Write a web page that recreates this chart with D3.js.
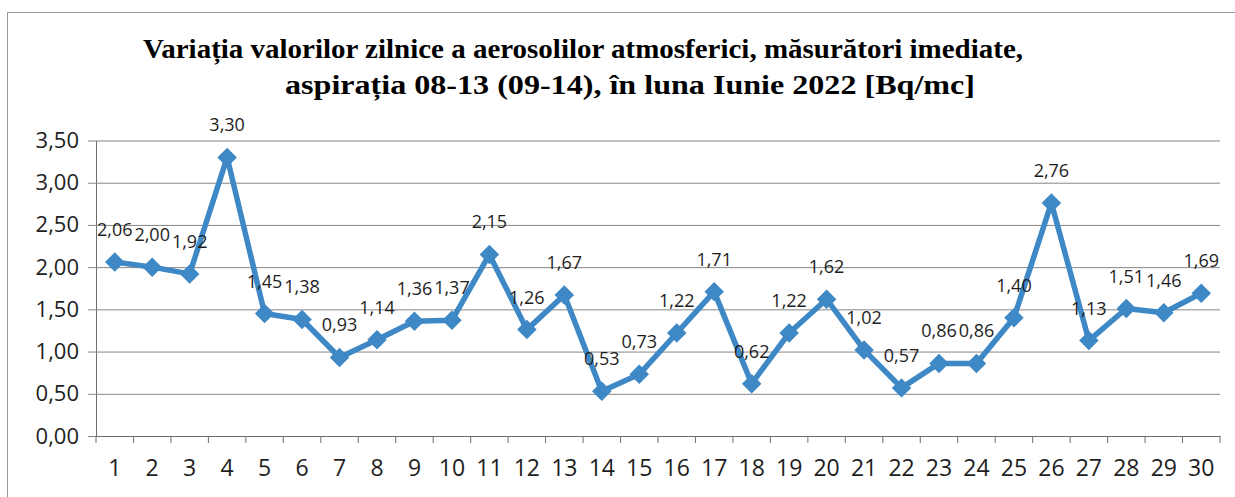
<!doctype html>
<html>
<head>
  <meta charset="utf-8">
  <title>Aerosoli atmosferici Iunie 2022</title>
  <script src="https://d3js.org/d3.v7.min.js"></script>
  <style>
    body { margin:0; background:#fff; }
  </style>
</head>
<body>
  <script>
    // data
    var days = d3.range(1, 31).map(String);
    var values = [2.06, 2.00, 1.92, 3.30, 1.45, 1.38, 0.93, 1.14, 1.36, 1.37,
                  2.15, 1.26, 1.67, 0.53, 0.73, 1.22, 1.71, 0.62, 1.22, 1.62,
                  1.02, 0.57, 0.86, 0.86, 1.40, 2.76, 1.13, 1.51, 1.46, 1.69];
    var yTicks = [0, 0.5, 1, 1.5, 2, 2.5, 3, 3.5];
    var titleLines = [
      "Variația valorilor zilnice a aerosolilor atmosferici, măsurători imediate,",
      "aspirația 08-13 (09-14),  în luna Iunie 2022 [Bq/mc]"
    ];

    var width = 1235;
    var height = 497;
    var blue = "#3d88c5";
    var fmt = function(v){ return d3.format(".2f")(v).replace(".", ","); };

    var svg = d3.select("body").append("svg")
      .attr("width", width)
      .attr("height", height);

    // chart frame
    svg.append("rect")
      .attr("x", 7.5).attr("y", 12.5)
      .attr("width", 1400).attr("height", 600)
      .attr("fill", "none")
      .attr("stroke", "#9a9a9a");

    // title
    var titlePos = [{x: 583, y: 58, w: 880}, {x: 630, y: 94, w: 690}];
    svg.selectAll("text.title")
      .data(titleLines)
      .enter()
      .append("text")
      .attr("class", "title")
      .attr("x", function(d, i){ return titlePos[i].x; })
      .attr("y", function(d, i){ return titlePos[i].y; })
      .attr("text-anchor", "middle")
      .attr("textLength", function(d, i){ return titlePos[i].w; })
      .attr("lengthAdjust", "spacingAndGlyphs")
      .style("font-family", "'Liberation Serif', 'Times New Roman', serif")
      .style("font-weight", "bold")
      .style("font-size", "28px")
      .text(function(d){ return d; });

    // scales
    var x = d3.scaleBand()
      .domain(days)
      .range([96, 1220])
      .padding(0);

    var y = d3.scaleLinear()
      .domain([0, 3.5])
      .range([436, 140.5]);

    // gridlines + y axis
    var leftAxis = d3.axisLeft(y)
      .tickValues(yTicks)
      .tickSize(-(1220 - 96))
      .tickSizeOuter(0)
      .tickPadding(17)
      .tickFormat(fmt);

    var gy = svg.append("g")
      .attr("transform", "translate(96,0)")
      .call(leftAxis);
    gy.select(".domain").attr("stroke", "#6e6e6e");
    gy.selectAll(".tick line")
      .attr("x1", -8)
      .attr("stroke", "#858585");
    gy.selectAll(".tick text")
      .style("font-family", "'Open Sans', sans-serif")
      .style("font-size", "22px")
      .attr("fill", "#1e1e1e");

    // x axis, ticks on category boundaries
    var bottomAxis = d3.axisBottom(x)
      .tickSize(0)
      .tickPadding(24);

    var gx = svg.append("g")
      .attr("transform", "translate(0,436)")
      .call(bottomAxis);
    gx.select(".domain").attr("stroke", "#6e6e6e");
    gx.selectAll(".tick text")
      .style("font-family", "'Open Sans', sans-serif")
      .style("font-size", "23px")
      .attr("fill", "#1e1e1e");

    svg.append("g")
      .selectAll("line")
      .data(days.concat(["end"]))
      .enter()
      .append("line")
      .attr("x1", function(d){ return d === "end" ? 1220 : x(d); })
      .attr("x2", function(d){ return d === "end" ? 1220 : x(d); })
      .attr("y1", 436)
      .attr("y2", 443)
      .attr("stroke", "#6e6e6e");

    // series line
    var line = d3.line()
      .x(function(d, i){ return x(days[i]) + x.bandwidth() / 2; })
      .y(function(d){ return y(d); });

    svg.append("path")
      .datum(values)
      .attr("d", line)
      .attr("fill", "none")
      .attr("stroke", blue)
      .attr("stroke-width", 5.5)
      .attr("stroke-linejoin", "round");

    // diamond markers
    svg.append("g")
      .selectAll("path")
      .data(values)
      .enter()
      .append("path")
      .attr("d", d3.symbol().type(d3.symbolSquare).size(190))
      .attr("transform", function(d, i){
        return "translate(" + (x(days[i]) + x.bandwidth() / 2) + "," + y(d) + ") rotate(45)";
      })
      .attr("fill", blue);

    // data labels
    svg.append("g")
      .selectAll("text")
      .data(values)
      .enter()
      .append("text")
      .attr("x", function(d, i){ return x(days[i]) + x.bandwidth() / 2; })
      .attr("y", function(d){ return y(d) - 26; })
      .attr("text-anchor", "middle")
      .style("font-family", "'Open Sans', sans-serif")
      .style("font-size", "18px")
      .attr("fill", "#1e1e1e")
      .text(function(d){ return fmt(d); });
  </script>
</body>
</html>
